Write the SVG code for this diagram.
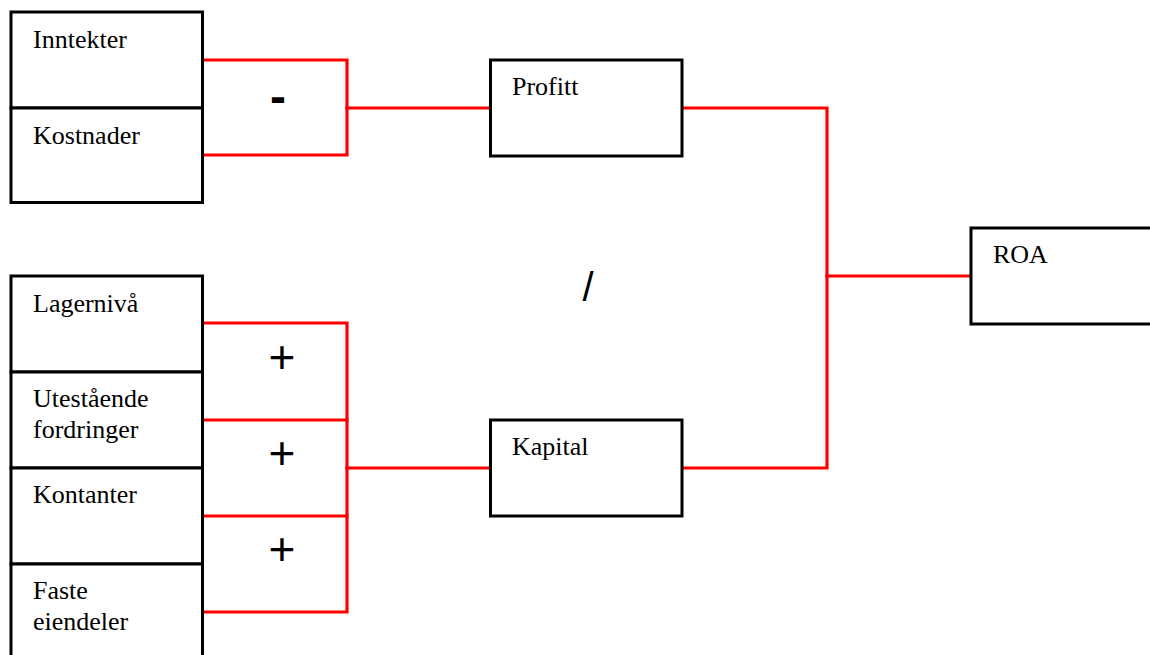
<svg xmlns="http://www.w3.org/2000/svg" width="1150" height="655" viewBox="0 0 1150 655">
  <style>
    .box { fill: #ffffff; stroke: #000000; stroke-width: 3; }
    .lbl { font-family: "Liberation Serif", "Times New Roman", serif; font-size: 26px; fill: #000000; }
    .op { font-family: "Liberation Sans", Arial, sans-serif; fill: #000000; text-anchor: middle; }
    .wire { fill: none; stroke: #ff0000; stroke-width: 3.2; stroke-linejoin: miter; stroke-linecap: square; }
  </style>
  <rect width="1150" height="655" fill="#ffffff"/>

  <!-- connectors -->
  <g id="connectors">
    <polyline class="wire" points="204,60 347,60 347,155 204,155"/>
    <line class="wire" x1="347" y1="108" x2="489" y2="108"/>
    <polyline class="wire" points="204,323 347,323 347,612 204,612"/>
    <line class="wire" x1="204" y1="420" x2="347" y2="420"/>
    <line class="wire" x1="204" y1="516" x2="347" y2="516"/>
    <line class="wire" x1="347" y1="468" x2="489" y2="468"/>
    <polyline class="wire" points="684,108 827,108 827,468 684,468"/>
    <line class="wire" x1="827" y1="276" x2="970" y2="276"/>
  </g>

  <!-- operators -->
  <g id="operators">
    <text class="op" x="278" y="113" font-size="48" font-weight="bold">-</text>
    <text class="op" x="282" y="373" font-size="46">+</text>
    <text class="op" x="282" y="469" font-size="46">+</text>
    <text class="op" x="282" y="565" font-size="46">+</text>
    <text class="op" x="588" y="301" font-size="40">/</text>
  </g>

  <g id="inntekter">
    <rect class="box" x="11" y="12" width="191.5" height="96"/>
    <text class="lbl" x="33" y="48">Inntekter</text>
  </g>
  <g id="kostnader">
    <rect class="box" x="11" y="108" width="191.5" height="94.5"/>
    <text class="lbl" x="33" y="144">Kostnader</text>
  </g>

  <g id="lagerniva">
    <rect class="box" x="11" y="276" width="191.5" height="96"/>
    <text class="lbl" x="33" y="312">Lagernivå</text>
  </g>
  <g id="utestaende">
    <rect class="box" x="11" y="372" width="191.5" height="96"/>
    <text class="lbl" x="33" y="407">Utestående</text>
    <text class="lbl" x="33" y="438">fordringer</text>
  </g>
  <g id="kontanter">
    <rect class="box" x="11" y="468" width="191.5" height="96"/>
    <text class="lbl" x="33" y="503">Kontanter</text>
  </g>
  <g id="faste-eiendeler">
    <rect class="box" x="11" y="564" width="191.5" height="100"/>
    <text class="lbl" x="33" y="599">Faste</text>
    <text class="lbl" x="33" y="630">eiendeler</text>
  </g>

  <g id="profitt">
    <rect class="box" x="490.5" y="60" width="191.5" height="96"/>
    <text class="lbl" x="512" y="95">Profitt</text>
  </g>
  <g id="kapital">
    <rect class="box" x="490.5" y="420" width="191.5" height="96"/>
    <text class="lbl" x="512" y="455">Kapital</text>
  </g>

  <g id="roa">
    <rect class="box" x="971" y="228" width="191.5" height="96"/>
    <text class="lbl" x="993" y="263">ROA</text>
  </g>
</svg>
